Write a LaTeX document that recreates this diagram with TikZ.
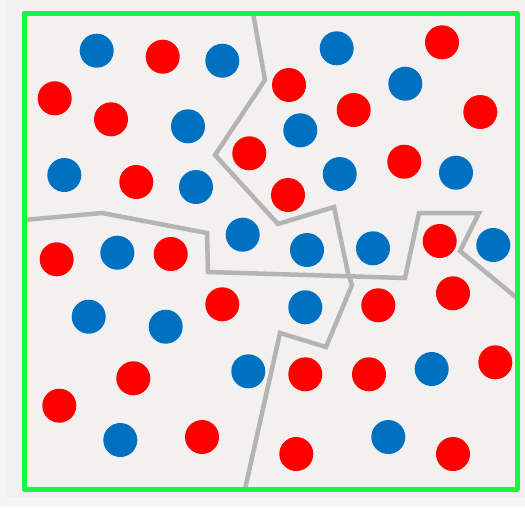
\documentclass[tikz,border=0pt]{standalone}
\usetikzlibrary{calc}
\definecolor{bgcol}{HTML}{F2F1EF}
\definecolor{edgecol}{HTML}{F6F6F5}
\definecolor{frame}{HTML}{14F83E}
\definecolor{dotred}{HTML}{FF0000}
\definecolor{dotblue}{HTML}{0070C0}
\definecolor{border}{HTML}{B4B4B4}
\tikzset{
  rdot/.style={circle,fill=dotred,draw=none,minimum size=34pt,inner sep=0pt},
  bdot/.style={circle,fill=dotblue,draw=none,minimum size=34pt,inner sep=0pt},
  divide/.style={draw=border,line width=4.5pt,line join=miter},
  box/.style={draw=frame,line width=5pt,line join=round}
}
\begin{document}
\begin{tikzpicture}[x=1pt,y=-1pt]
\useasboundingbox (0,0) rectangle (525,507);
\fill[edgecol] (0,0) rectangle (525,507);
\fill[bgcol] (6,0) rectangle (525,497);
% dividing lines
\draw[divide] (253,13) -- (265,80) -- (215,155) -- (278,224) -- (334,207) -- (348,273) -- (352,285) -- (326,347) -- (280,333) -- (245,489);
\draw[divide] (24,220) -- (102,213) -- (207,233) -- (208,272) -- (405,278) -- (419,213) -- (479,213) -- (460,251) -- (517,298);
% blue dots
\node[bdot] (b1) at (96.7,50.7) {};
\node[bdot] (b2) at (222.3,60.7) {};
\node[bdot] (b3) at (188,126.3) {};
\node[bdot] (b4) at (64.3,175) {};
\node[bdot] (b5) at (196,187) {};
\node[bdot] (b6) at (242.7,234.7) {};
\node[bdot] (b7) at (117.3,252.7) {};
\node[bdot] (b8) at (336.7,48.3) {};
\node[bdot] (b9) at (405.3,83.7) {};
\node[bdot] (b10) at (300.3,130.3) {};
\node[bdot] (b11) at (339.7,174) {};
\node[bdot] (b12) at (456,172.7) {};
\node[bdot] (b13) at (307,250) {};
\node[bdot] (b14) at (373,248.3) {};
\node[bdot] (b15) at (493.3,245) {};
\node[bdot] (b16) at (88.7,316.7) {};
\node[bdot] (b17) at (165.7,326.7) {};
\node[bdot] (b18) at (248.3,371.3) {};
\node[bdot] (b19) at (120.3,440) {};
\node[bdot] (b20) at (305.3,307.3) {};
\node[bdot] (b21) at (431.7,369) {};
\node[bdot] (b22) at (388.3,437) {};
% red dots
\node[rdot] (r1) at (162.7,56.7) {};
\node[rdot] (r2) at (54.7,98.3) {};
\node[rdot] (r3) at (111,119.3) {};
\node[rdot] (r4) at (249.3,153.3) {};
\node[rdot] (r5) at (136.3,182) {};
\node[rdot] (r6) at (56.7,259.3) {};
\node[rdot] (r7) at (170.7,254) {};
\node[rdot] (r8) at (442,42.3) {};
\node[rdot] (r9) at (289,85) {};
\node[rdot] (r10) at (353.7,110) {};
\node[rdot] (r11) at (480.3,112) {};
\node[rdot] (r12) at (404.3,161.7) {};
\node[rdot] (r13) at (288,195) {};
\node[rdot] (r14) at (439.7,241) {};
\node[rdot] (r15) at (222.3,304.3) {};
\node[rdot] (r16) at (133.3,378.3) {};
\node[rdot] (r17) at (59.3,405.7) {};
\node[rdot] (r18) at (202,437) {};
\node[rdot] (r19) at (378.3,305.3) {};
\node[rdot] (r20) at (453,293.3) {};
\node[rdot] (r21) at (305.3,374.3) {};
\node[rdot] (r22) at (369,374.3) {};
\node[rdot] (r23) at (495.3,362.3) {};
\node[rdot] (r24) at (296.3,454) {};
\node[rdot] (r25) at (453,454) {};
% frame
\draw[box] (24,13) rectangle (517,489);
\end{tikzpicture}
\end{document}
